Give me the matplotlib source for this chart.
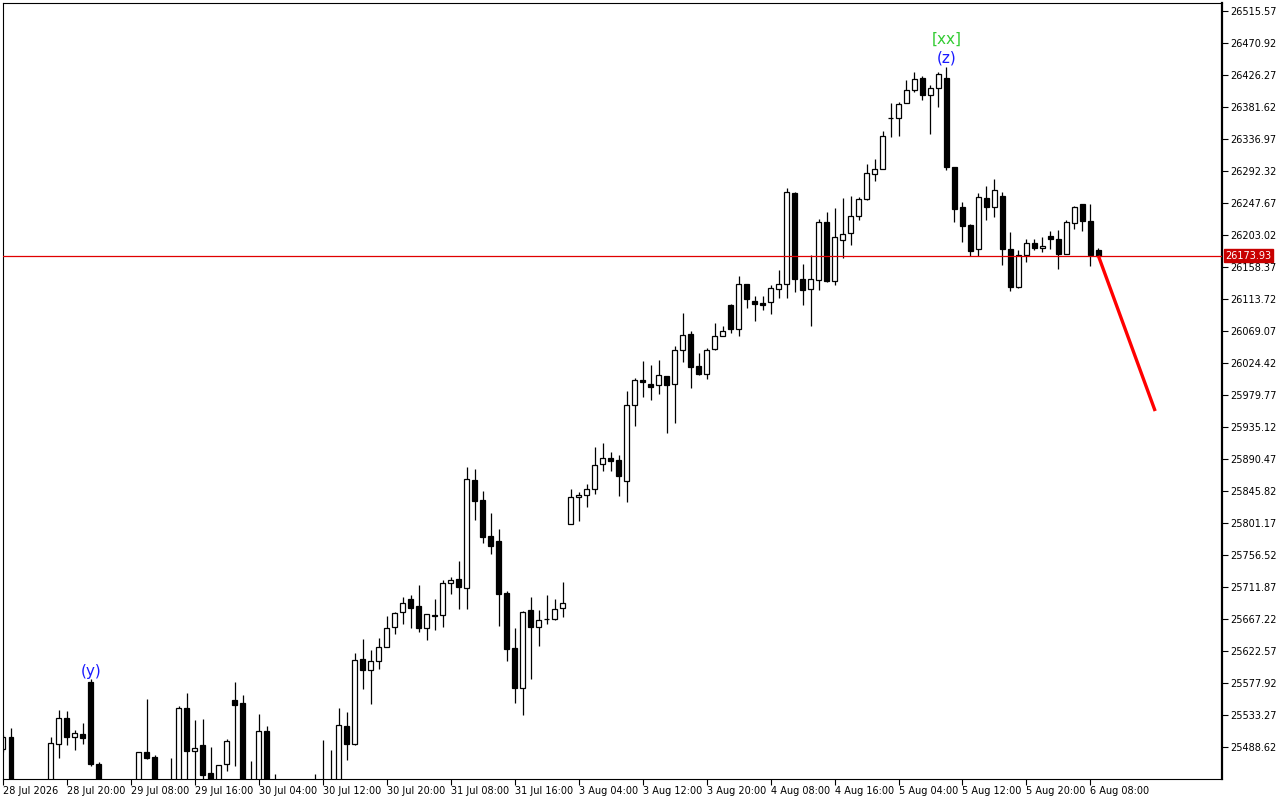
import matplotlib
matplotlib.use('Agg')
import matplotlib.pyplot as plt
import numpy as np

# hourly candles (candles below the visible window are rough guesses)
opens = [
    25485.8, 25502.6, 25430, 25415, 25425, 25410, 25420, 25493.2, 25529.1, 25503.0,
    25506.8, 25579.3, 25464.9, 25420, 25410, 25420, 25415, 25430, 25481.2, 25474.7,
    25430, 25420, 25435, 25543.1, 25483.5, 25491.4, 25452.4, 25430, 25464.5, 25554.2,
    25550.0, 25430, 25430, 25511.0, 25430, 25440, 25420, 25430, 25415, 25425,
    25435, 25430, 25435, 25517.9, 25493.2, 25611.0, 25596.5, 25608.2, 25627.7, 25655.7,
    25676.6, 25694.7, 25685.4, 25655.1, 25672.4, 25672.4, 25717.0, 25722.6, 25710.1, 25860.8,
    25832.9, 25782.6, 25776.1, 25703.1, 25626.4, 25571.4, 25679.4, 25655.7, 25667.5, 25667.7,
    25682.2, 25799.4, 25836.8, 25839.8, 25848.2, 25883.1, 25891.5, 25888.7, 25859.4, 25965.4,
    26000.7, 25994.7, 25993.3, 26005.9, 25994.7, 26042.2, 26064.5, 26019.8, 26008.7, 26043.5,
    26061.7, 26105.4, 26071.5, 26134.2, 26110.5, 26108.1, 26110.0, 26127.0, 26135.1, 26261.6,
    26141.2, 26128.1, 26140.7, 26220.7, 26139.3, 26195.6, 26205.4, 26229.1, 26252.8, 26287.7,
    26294.7, 26365.9, 26365.9, 26386.8, 26404.9, 26421.7, 26398.0, 26407.7, 26421.7, 26297.6,
    26241.7, 26216.6, 26183.1, 26254.2, 26241.7, 26257.0, 26183.1, 26130.1, 26174.7, 26191.4,
    26184.5, 26201.2, 26197.0, 26176.1, 26219.4, 26245.9, 26222.1, 26181.7,
]
highs = [
    25505.4, 25515.1, 25440, 25430, 25435, 25430, 25502.6, 25540.3, 25538.9, 25512.4,
    25522.5, 25583.1, 25467.3, 25435, 25430, 25438, 25435, 25482.0, 25555.2, 25477.9,
    25440, 25473.7, 25545.8, 25563.6, 25526.3, 25527.7, 25488.6, 25464.0, 25499.8, 25579.3,
    25561.2, 25469.1, 25534.7, 25517.9, 25451.0, 25442, 25438, 25440, 25435, 25451.0,
    25498.4, 25484.4, 25543.1, 25537.5, 25619.8, 25639.3, 25624.0, 25640.7, 25671.4, 25676.6,
    25697.9, 25700.7, 25714.7, 25673.8, 25695.1, 25721.7, 25725.8, 25748.2, 25879.3, 25876.5,
    25845.4, 25815.1, 25792.8, 25705.9, 25654.7, 25678.0, 25697.9, 25679.4, 25700.7, 25695.1,
    25718.9, 25848.2, 25844.0, 25855.2, 25907.2, 25912.8, 25900.2, 25896.1, 25985.4, 26003.5,
    26027.2, 26021.6, 26028.6, 26005.9, 26048.2, 26094.2, 26069.1, 26038.4, 26044.9, 26080.2,
    26075.6, 26106.8, 26145.8, 26134.2, 26118.3, 26117.2, 26132.8, 26153.8, 26268.6, 26262.6,
    26162.1, 26175.1, 26225.3, 26234.7, 26240.7, 26254.7, 26257.0, 26255.6, 26301.7, 26308.7,
    26347.7, 26387.6, 26388.2, 26418.9, 26430.0, 26424.9, 26411.9, 26430.0, 26437.0, 26297.6,
    26248.7, 26218.0, 26261.2, 26271.0, 26280.7, 26262.6, 26206.8, 26181.7, 26197.0, 26197.0,
    26199.8, 26208.2, 26209.6, 26223.5, 26243.1, 26245.9, 26245.9, 26184.5,
]
lows = [
    25481.6, 25420, 25405, 25400, 25405, 25400, 25410, 25473.7, 25491.4, 25484.4,
    25492.8, 25462.5, 25400, 25400, 25395, 25405, 25400, 25420, 25472.3, 25420,
    25410, 25410, 25425, 25440, 25440, 25438, 25420, 25425, 25455.6, 25462.5,
    25420, 25415, 25420, 25420, 25415, 25410, 25405, 25410, 25400, 25410,
    25420, 25420, 25425, 25470.5, 25491.4, 25570.0, 25549.1, 25597.9, 25627.7, 25646.7,
    25660.7, 25655.1, 25649.5, 25638.3, 25652.3, 25656.1, 25702.5, 25681.2, 25681.2, 25805.8,
    25773.7, 25758.3, 25657.9, 25609.1, 25550.4, 25533.7, 25583.9, 25630.0, 25660.7, 25666.3,
    25670.4, 25799.4, 25804.4, 25823.9, 25841.2, 25874.2, 25874.2, 25839.3, 25830.9, 25936.9,
    25977.4, 25973.2, 25981.6, 25927.2, 25941.1, 26026.2, 25990.0, 26007.3, 26001.7, 26042.2,
    26061.7, 26066.3, 26061.7, 26101.2, 26083.5, 26098.4, 26092.1, 26115.5, 26115.5, 26123.9,
    26105.8, 26076.5, 26126.7, 26137.9, 26133.7, 26171.4, 26189.5, 26224.4, 26251.4, 26278.8,
    26294.7, 26340.2, 26341.6, 26386.8, 26402.1, 26391.8, 26343.3, 26380.9, 26293.0, 26221.6,
    26193.7, 26173.3, 26173.3, 26223.5, 26228.6, 26161.6, 26124.5, 26128.7, 26164.9, 26181.7,
    26178.9, 26183.9, 26156.0, 26176.1, 26211.8, 26209.0, 26159.4, 26173.9,
]
closes = [
    25502.6, 25430, 25415, 25425, 25410, 25420, 25493.8, 25529.1, 25503.0, 25507.8,
    25501.6, 25464.9, 25420, 25410, 25420, 25415, 25428, 25481.2, 25473.7, 25430,
    25420, 25435, 25543.1, 25483.5, 25486.8, 25450.0, 25430, 25463.5, 25497.0, 25547.7,
    25430, 25425, 25511.0, 25430, 25425, 25420, 25430, 25415, 25425, 25435,
    25430, 25435, 25518.9, 25493.2, 25609.6, 25596.5, 25608.2, 25627.7, 25654.3, 25675.2,
    25689.1, 25683.0, 25655.1, 25673.8, 25671.6, 25717.0, 25721.2, 25712.3, 25862.2, 25832.3,
    25782.1, 25769.5, 25702.5, 25625.8, 25571.4, 25676.6, 25656.5, 25666.3, 25666.8, 25680.8,
    25689.1, 25837.0, 25839.8, 25848.2, 25881.7, 25891.5, 25888.1, 25867.2, 25965.4, 26000.3,
    25997.5, 25990.5, 26007.3, 25994.2, 26042.2, 26063.1, 26019.3, 26008.7, 26042.2, 26061.7,
    26068.7, 26071.5, 26134.2, 26114.1, 26107.2, 26105.8, 26128.7, 26134.2, 26262.6, 26142.1,
    26126.7, 26141.2, 26220.7, 26139.3, 26199.8, 26204.0, 26229.1, 26252.8, 26289.1, 26294.7,
    26340.7, 26366.3, 26385.4, 26404.9, 26420.3, 26397.7, 26407.7, 26427.3, 26297.6, 26239.7,
    26215.2, 26181.1, 26255.6, 26241.7, 26265.4, 26183.1, 26130.1, 26174.7, 26191.4, 26184.5,
    26187.3, 26197.0, 26176.1, 26220.7, 26241.7, 26222.1, 26174.7, 26173.93,
]

time_labels = ['28 Jul 2026', '28 Jul 20:00', '29 Jul 08:00', '29 Jul 16:00', '30 Jul 04:00',
               '30 Jul 12:00', '30 Jul 20:00', '31 Jul 08:00', '31 Jul 16:00', '3 Aug 04:00',
               '3 Aug 12:00', '3 Aug 20:00', '4 Aug 08:00', '4 Aug 16:00', '5 Aug 04:00',
               '5 Aug 12:00', '5 Aug 20:00', '6 Aug 08:00']
price_ticks = [26515.57, 26470.92, 26426.27, 26381.62, 26336.97, 26292.32, 26247.67, 26203.02,
               26158.37, 26113.72, 26069.07, 26024.42, 25979.77, 25935.12, 25890.47, 25845.82,
               25801.17, 25756.52, 25711.87, 25667.22, 25622.57, 25577.92, 25533.27, 25488.62]

bid = 26173.93
forecast_x = [137, 144.1]
forecast_y = [26173.93, 25957.4]

# wave labels: (candle index, text, colour, offset above the high in points)
wave_marks = [(11, '(y)', '#1a1aff', 0), (118, '(z)', '#1a1aff', 1), (118, '[xx]', '#33cc33', 15)]

fig = plt.figure(figsize=(12.8, 8), dpi=100)
ax = fig.add_axes([3 / 1280, 21 / 800, 1219 / 1280, 776 / 800])

x = np.arange(len(opens))
o = np.array(opens)
h = np.array(highs)
l = np.array(lows)
c = np.array(closes)
up = c >= o

ax.vlines(x, l, h, color='black', lw=0.9, zorder=1)
body_lo = np.minimum(o, c)
body_h = np.maximum(np.abs(c - o), 0.9)
ax.bar(x, body_h, bottom=body_lo, width=0.62, color=np.where(up, 'white', 'black'),
       edgecolor='black', linewidth=0.9, zorder=2)

ax.axhline(bid, color='#e00000', lw=0.9, zorder=3)
ax.plot(forecast_x, forecast_y, color='#ff0000', lw=2.4, zorder=4, solid_capstyle='butt')

for idx, txt, col, off in wave_marks:
    ax.annotate(txt, (x[idx], h[idx]), xytext=(0, off), textcoords='offset points',
                ha='center', va='bottom', color=col, fontsize=11)

ax.set_xlim(0.09, 152.46)
ax.set_ylim(25443.98, 26526.7)

ax.yaxis.tick_right()
ax.set_yticks(price_ticks)
ax.set_yticklabels([f'{v:.2f}' for v in price_ticks])
ax.tick_params(axis='y', direction='out', length=4, width=0.8, pad=2, labelsize=7)

ax.set_xticks(np.arange(0, 8 * len(time_labels), 8))
ax.set_xticklabels(time_labels)
for lbl in ax.get_xticklabels():
    lbl.set_ha('left')
ax.tick_params(axis='x', direction='out', length=4, width=0.8, pad=1, labelsize=7)

for s in ax.spines.values():
    s.set_linewidth(0.8)
ax.spines['right'].set_linewidth(1.6)

# current price tag on the price scale
ax.text(1.0025, bid, f'{bid:.2f}', transform=ax.get_yaxis_transform(), ha='left', va='center',
        color='white', fontsize=7, zorder=5,
        bbox=dict(boxstyle='square,pad=0.15', facecolor='#c80000', edgecolor='#c80000'))

fig.savefig('out.png', dpi=100)
